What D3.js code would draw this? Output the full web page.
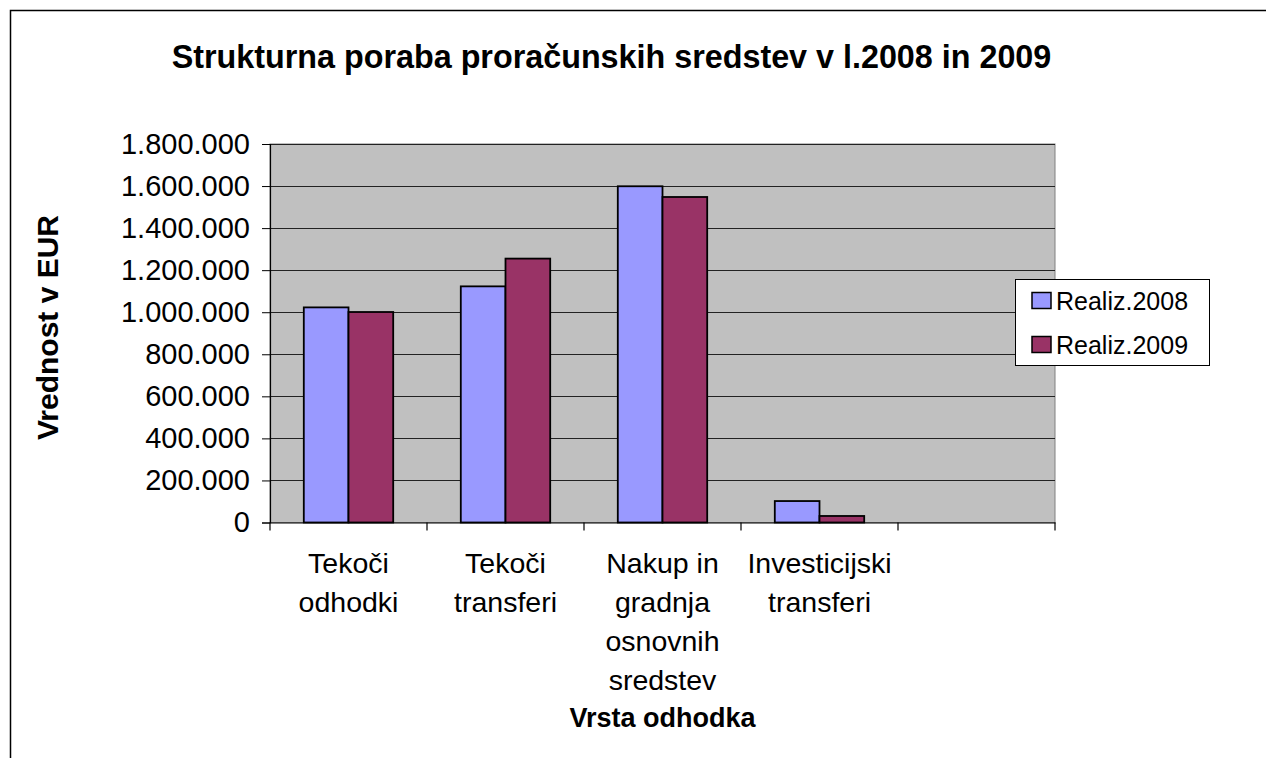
<!DOCTYPE html>
<html>
<head>
<meta charset="utf-8">
<script src="https://cdn.jsdelivr.net/npm/d3@7"></script>
<style>
  html, body { margin: 0; padding: 0; background: #fff; }
  svg { display: block; }
  text { font-family: "Liberation Sans", Arial, sans-serif; fill: #000; }
</style>
</head>
<body>
<svg id="chart" width="1266" height="758"></svg>
<script>
const categories = [
  ["Tekoči", "odhodki"],
  ["Tekoči", "transferi"],
  ["Nakup in", "gradnja", "osnovnih", "sredstev"],
  ["Investicijski", "transferi"],
  [""]
];
const seriesNames = ["Realiz.2008", "Realiz.2009"];
const realiz2008 = [1023000, 1123000, 1599000, 102000, null];
const realiz2009 = [1001000, 1255000, 1548000, 31000, null];
const yTicks = [0, 200000, 400000, 600000, 800000, 1000000, 1200000, 1400000, 1600000, 1800000];
const colors = ["#9999FF", "#993366"];

const svg = d3.select("#chart");
const L = 270, R = 1055, T = 144, B = 522.5;

// outer frame
svg.append("path").attr("d", "M10.5,758 L10.5,10.5 L1266,10.5")
  .attr("fill", "none").attr("stroke", "#000").attr("stroke-width", 1.5);

// title
svg.append("text").attr("x", 611.5).attr("y", 68).attr("text-anchor", "middle")
  .attr("font-size", 32.3).attr("font-weight", "bold")
  .text("Strukturna poraba proračunskih sredstev v l.2008 in 2009");

const catKeys = categories.map((d, i) => i);
const x0 = d3.scaleBand().domain(catKeys).range([L, R]).padding(0);
const x1 = d3.scaleBand().domain(seriesNames).range([0, x0.bandwidth()]).paddingInner(0).paddingOuter(0.756);
const y = d3.scaleLinear().domain([0, 1800000]).range([B, T]);

// plot background
svg.append("rect").attr("x", L).attr("y", T).attr("width", R - L).attr("height", B - T)
  .attr("fill", "#C0C0C0").attr("stroke", "#808080").attr("stroke-width", 1);

// gridlines
svg.append("g").selectAll("line").data(yTicks.filter(d => d > 0)).join("line")
  .attr("x1", L).attr("x2", R)
  .attr("y1", d => Math.round(y(d)) + 0.5).attr("y2", d => Math.round(y(d)) + 0.5)
  .attr("stroke", "#222").attr("stroke-width", 1);

// bars
const data = [];
categories.forEach((c, i) => {
  [realiz2008, realiz2009].forEach((s, j) => {
    if (s[i] != null) data.push({ cat: i, series: seriesNames[j], value: s[i], color: colors[j] });
  });
});
svg.append("g").selectAll("rect").data(data).join("rect")
  .attr("x", d => x0(d.cat) + x1(d.series))
  .attr("y", d => y(d.value))
  .attr("width", x1.bandwidth())
  .attr("height", d => B - y(d.value))
  .attr("fill", d => d.color)
  .attr("stroke", "#000").attr("stroke-width", 1.8);

// y axis
const yAxis = d3.axisLeft(y).tickValues(yTicks).tickSize(8).tickPadding(12)
  .tickFormat(d => d3.format(",")(d).replace(/,/g, "."));
const gy = svg.append("g").attr("transform", `translate(${L},0)`).call(yAxis);
gy.select(".domain").attr("stroke", "#000").attr("stroke-width", 1.2);
gy.selectAll(".tick line").attr("stroke", "#000");
gy.selectAll(".tick text").attr("font-size", 29).attr("font-family", "Liberation Sans, Arial, sans-serif").attr("fill", "#000");

// x axis
const xAxis = d3.axisBottom(x0).tickValues([]).tickSizeOuter(0);
const gx = svg.append("g").attr("transform", `translate(0,${B})`).call(xAxis);
gx.select(".domain").attr("stroke", "#000").attr("stroke-width", 1.2);
const tickXs = d3.range(categories.length + 1).map(i => L + i * x0.step());
gx.selectAll("line.tk").data(tickXs).join("line").attr("class", "tk")
  .attr("x1", d => d).attr("x2", d => d).attr("y1", 0).attr("y2", 8)
  .attr("stroke", "#000").attr("stroke-width", 1.2);

// category labels
const catG = svg.append("g");
categories.forEach((lines, i) => {
  const t = catG.append("text").attr("text-anchor", "middle").attr("font-size", 28.5)
    .attr("x", x0(i) + x0.bandwidth() / 2).attr("y", 573);
  lines.forEach((ln, k) => {
    t.append("tspan").attr("x", x0(i) + x0.bandwidth() / 2).attr("y", 573 + k * 39).text(ln);
  });
});

// axis titles
svg.append("text").attr("x", (L + R) / 2).attr("y", 727).attr("text-anchor", "middle")
  .attr("font-size", 27).attr("font-weight", "bold").text("Vrsta odhodka");
svg.append("text").attr("transform", "translate(58,327.5) rotate(-90)").attr("text-anchor", "middle")
  .attr("font-size", 30).attr("font-weight", "bold").text("Vrednost v EUR");

// legend
const lg = svg.append("g");
lg.append("rect").attr("x", 1015.5).attr("y", 279.5).attr("width", 194).attr("height", 86)
  .attr("fill", "#fff").attr("stroke", "#000").attr("stroke-width", 1);
seriesNames.forEach((s, j) => {
  lg.append("rect").attr("x", 1032).attr("y", 292.5 + j * 44).attr("width", 19).attr("height", 16)
    .attr("fill", colors[j]).attr("stroke", "#000").attr("stroke-width", 1.5);
  lg.append("text").attr("x", 1056).attr("y", 309.5 + j * 44).attr("font-size", 25).text(s);
});
</script>
</body>
</html>
